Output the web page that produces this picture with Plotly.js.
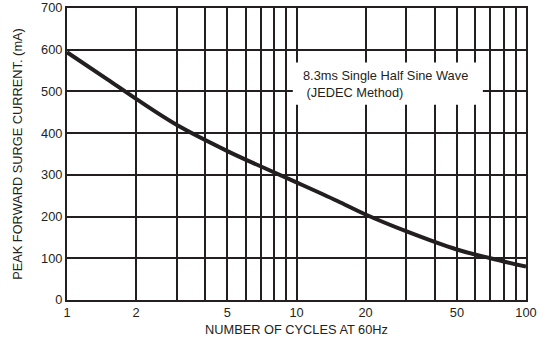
<!DOCTYPE html>
<html>
<head>
<meta charset="utf-8">
<script src="https://cdn.plot.ly/plotly-3.0.1.min.js"></script>
<style>html,body{margin:0;padding:0;background:#fff;}#chart{width:549px;height:342px;}</style>
</head>
<body>
<div id="chart"></div>
<script>
const cycles = [1, 1.5, 2, 3, 5, 7, 10, 15, 20, 30, 50, 70, 100];
const surgeCurrent = [594, 529, 482, 420, 357, 320, 282, 238, 205, 165, 121, 100, 80];
const xGridVals = [1,2,3,4,5,6,7,8,9,10,20,30,40,50,60,70,80,90,100];
const xTickText = ['1','2','','','5','','','','','10','20','','','50','','','','','100'];
const yTickVals = [0,100,200,300,400,500,600,700];
const annotationText = '8.3ms Single Half Sine Wave<br>&nbsp;(JEDEC Method)';

const ink = '#231f20';
const fontFam = 'Liberation Sans, Arial, sans-serif';
const fs = 12.8;

const trace = {
  x: cycles, y: surgeCurrent, type: 'scatter', mode: 'lines',
  line: {color: ink, width: 4, shape: 'spline', smoothing: 1.0},
  hoverinfo: 'skip'
};

const layout = {
  width: 549, height: 342,
  margin: {l: 67, r: 23, t: 8, b: 42},
  paper_bgcolor: '#fff', plot_bgcolor: '#fff',
  showlegend: false,
  font: {family: fontFam, size: fs, color: ink},
  xaxis: {
    type: 'log', range: [0, 2],
    tickmode: 'array', tickvals: xGridVals, ticktext: xTickText,
    showgrid: true, gridcolor: ink, gridwidth: 2,
    showline: true, linecolor: ink, linewidth: 2, mirror: true,
    ticks: '', zeroline: false,
    tickfont: {family: fontFam, size: fs, color: ink},
    title: {text: 'NUMBER OF CYCLES AT 60Hz', font: {family: fontFam, size: fs, color: ink}, standoff: 6}
  },
  yaxis: {
    range: [0, 700],
    tickmode: 'array', tickvals: yTickVals,
    showgrid: true, gridcolor: ink, gridwidth: 2,
    showline: true, linecolor: ink, linewidth: 2, mirror: true,
    ticks: '', zeroline: false,
    tickfont: {family: fontFam, size: fs, color: ink},
    title: {text: 'PEAK FORWARD SURGE CURRENT. (mA)', font: {family: fontFam, size: fs, color: ink}, standoff: 16}
  },
  shapes: [{
    type: 'rect', xref: 'paper', yref: 'paper',
    x0: 0.492, x1: 0.906, y0: 0.669, y1: 0.813,
    fillcolor: '#fff', line: {width: 0}, layer: 'above'
  }],
  annotations: [{
    xref: 'paper', yref: 'paper', x: 0.51, y: 0.80,
    xanchor: 'left', yanchor: 'top', align: 'left', showarrow: false,
    text: annotationText,
    font: {family: fontFam, size: fs, color: ink}
  }]
};

Plotly.newPlot('chart', [trace], layout, {staticPlot: true, displayModeBar: false});
</script>
</body>
</html>
